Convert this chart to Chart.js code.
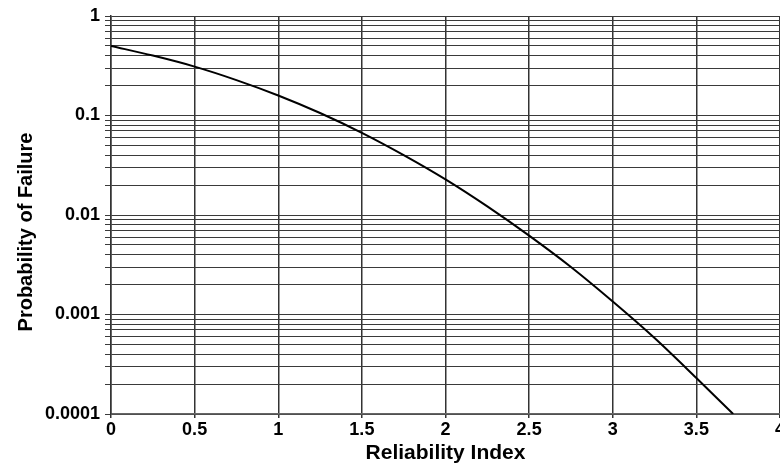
<!DOCTYPE html>
<html>
<head>
<meta charset="utf-8">
<script src="https://cdn.jsdelivr.net/npm/chart.js@4/dist/chart.umd.min.js"></script>
<style>
  html, body { margin: 0; padding: 0; background: #fff; overflow: hidden; }
  #wrap { width: 800px; height: 467px; }
</style>
</head>
<body>
<div id="wrap"><canvas id="pfChart" width="800" height="467"></canvas></div>
<script>
// reliability index (beta) and probability of failure
const beta = [0, 0.25, 0.5, 0.75, 1, 1.25, 1.5, 1.75, 2, 2.25, 2.5, 2.75, 3, 3.25, 3.5, 3.72];
const pf = [0.5, 0.40, 0.31, 0.227, 0.159, 0.106, 0.067, 0.040, 0.0228, 0.0122, 0.0062, 0.0030, 0.00135, 0.00058, 0.00023, 0.0001];

const xTicks = [0, 0.5, 1, 1.5, 2, 2.5, 3, 3.5, 4];
const decades = [0.0001, 0.001, 0.01, 0.1];
const decadeLabels = { 1: "1", 0.1: "0.1", 0.01: "0.01", 0.001: "0.001", 0.0001: "0.0001" };
const yTitle = "Probability of Failure";

// grid lines at 1..9 of every decade, plus the top at 1
const yTicks = [];
decades.forEach(d => {
    for (let k = 1; k <= 9; k++) yTicks.push(+(d * k).toPrecision(3));
});
yTicks.push(1);

const points = beta.map((b, i) => ({ x: b, y: pf[i] }));

const font = "'Liberation Sans', Arial, Helvetica, sans-serif";

// rotated y axis title, sitting a little below the middle of the axis
const yTitlePlugin = {
    id: "yTitle",
    afterDraw(chart) {
        const c = chart.ctx;
        const area = chart.chartArea;
        c.save();
        c.translate(26, (area.top + area.bottom) / 2 + 17);
        c.rotate(-Math.PI / 2);
        c.font = "bold 20px " + font;
        c.fillStyle = "#000";
        c.textAlign = "center";
        c.textBaseline = "middle";
        c.fillText(yTitle, 0, 0);
        c.restore();
    },
};

const ctx = document.getElementById("pfChart").getContext("2d");
const myChart = new Chart(ctx, {
    type: "line",
    data: {
        datasets: [
            {
                data: points,
                borderColor: "#000",
                borderWidth: 2,
                pointRadius: 0,
                fill: false,
                cubicInterpolationMode: "monotone",
            },
        ],
    },
    options: {
        responsive: false,
        animation: false,
        devicePixelRatio: 1,
        layout: { padding: { top: 16, right: 20, left: 0, bottom: 0 } },
        plugins: { legend: { display: false }, tooltip: { enabled: false } },
        scales: {
            x: {
                type: "linear",
                min: 0,
                max: 4,
                afterBuildTicks: (scale) => {
                    scale.ticks = xTicks.map(v => ({ value: v }));
                },
                afterFit: (scale) => { scale.height = 53; },
                grid: { color: "#333", lineWidth: 1.5, tickLength: 4 },
                border: { color: "#666", width: 1.5 },
                ticks: {
                    color: "#000",
                    padding: 1,
                    maxRotation: 0,
                    autoSkip: false,
                    font: { family: font, size: 18, weight: "bold" },
                    callback: (v) => String(v),
                },
                title: {
                    display: true,
                    text: "Reliability Index",
                    color: "#000",
                    padding: { top: 0, bottom: 1 },
                    font: { family: font, size: 21, weight: "bold" },
                },
            },
            y: {
                type: "logarithmic",
                min: 0.0001,
                max: 1,
                afterBuildTicks: (scale) => {
                    scale.ticks = yTicks.map(v => ({ value: v, major: decadeLabels[v] !== undefined }));
                },
                afterFit: (scale) => { scale.width = 111; },
                grid: { color: "#3a3a3a", lineWidth: 1, tickLength: 6 },
                border: { color: "#333", width: 1.5 },
                ticks: {
                    color: "#000",
                    padding: 5,
                    autoSkip: false,
                    font: { family: font, size: 18, weight: "bold" },
                    callback: (v) => decadeLabels[v] || "",
                },
            },
        },
    },
    plugins: [yTitlePlugin],
});
</script>
</body>
</html>
